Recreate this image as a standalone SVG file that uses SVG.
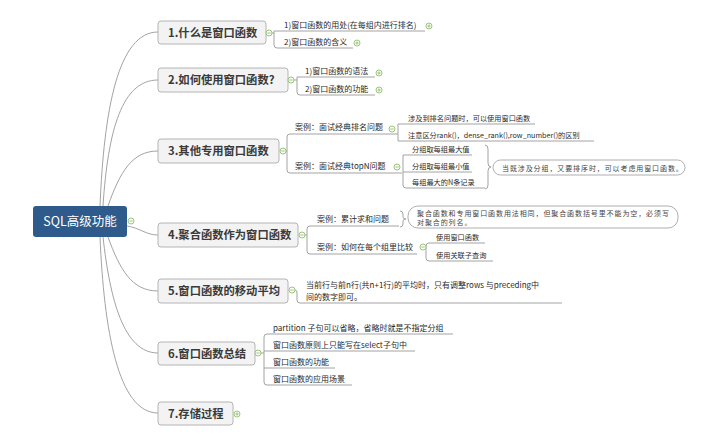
<svg xmlns="http://www.w3.org/2000/svg" xmlns:xlink="http://www.w3.org/1999/xlink" width="720" height="435" viewBox="0 0 720 435">
<style>
.c{fill:none;stroke:#a3a3a3;stroke-width:1}
.u{fill:none;stroke:#a3a3a3;stroke-width:1}
.box{fill:#f3f3f3;stroke:#b4b4b4;stroke-width:1}
.mt{font-family:"Noto Sans CJK SC","Noto Sans",sans-serif;font-size:11.3px;font-weight:bold;fill:#3a3a3a}
.t1{font-family:"Noto Sans CJK SC","Noto Sans",sans-serif;font-size:8px;fill:#2a2a2a}
.t2{font-family:"Noto Sans CJK SC","Noto Sans",sans-serif;font-size:7.2px;fill:#2a2a2a}
.nt{font-family:"Noto Sans CJK SC","Noto Serif",serif;font-size:7px;letter-spacing:0.9px;fill:#444}
.call{fill:#fff;stroke:#9a9a9a;stroke-width:0.8}
.tg{fill:#fff;stroke:#8dbf69;stroke-width:0.9}
.tl{stroke:#8dbf69;stroke-width:0.9}
</style>
<defs>
<g id="minus"><circle class="tg" r="3"/><line class="tl" x1="-1.7" y1="0" x2="1.7" y2="0"/></g>
<g id="plus"><circle class="tg" r="3"/><line class="tl" x1="-1.7" y1="0" x2="1.7" y2="0"/><line class="tl" x1="0" y1="-1.7" x2="0" y2="1.7"/></g>
</defs>
<rect width="720" height="435" fill="#fff"/>

<g id="connectors">
<path class="c" d="M100,206 C104,110 118,32 158,32"/>
<path class="c" d="M103,206 C108,130 122,80 158,80"/>
<path class="c" d="M108,206 C120,172 132,151 158,151"/>
<path class="c" d="M127,226 C140,228 146,235 158,235"/>
<path class="c" d="M108,237 C120,270 132,291 158,291"/>
<path class="c" d="M103,237 C110,300 124,353 158,353"/>
<path class="c" d="M100,237 C104,330 118,413 158,413"/>
<!-- node1 children -->
<path class="u" d="M272,33 H274 M274,31 H425 M274,31 V45 Q274,48 277,48 H353"/>
<!-- node2 children -->
<path class="u" d="M294,80 H297 M297,77 H375 M297,77 V92 Q297,95 300,95 H375"/>
<!-- node3 children -->
<path class="u" d="M286,151 H287 M398,134 H290 Q287,134 287,137 V170 Q287,173 290,173 H402"/>
<path class="u" d="M398,124 H535 M398,124 V141 H594"/>
<path class="u" d="M403,155 H472 M403,172 H472 M403,155 V185 Q403,188 406,188 H485"/>
<path class="u" d="M485,145 Q488,145 488,149 V163 Q488,167 491,167 Q488,167 488,171 V185 Q488,189 485,189"/>
<!-- node4 children -->
<path class="u" d="M305,235 H307 M399,226 H310 Q307,226 307,229 V251 Q307,254 310,254 H417"/>
<path class="u" d="M400,211 Q403,211 403,214 V217 Q403,219 406,219 Q403,219 403,221 V224 Q403,227 400,227"/>
<path class="u" d="M426,247 H426 M485,243 H429 Q426,243 426,246 V258 Q426,261 429,261 H493"/>
<!-- node5 children -->
<path class="u" d="M295,290 Q297,290 297,293 V300 Q297,303 300,303 H562"/>
<!-- node6 children -->
<path class="u" d="M261,353 H264 M453,334 H267 Q264,334 264,337 V382 Q264,385 267,385 H352 M264,351 H415 M264,368 H335"/>
</g>

<g id="root">
<rect x="33" y="206" width="94" height="31" rx="3" fill="#2e5b8b"/>
<text x="80" y="226" text-anchor="middle" font-family="'Noto Sans CJK SC','Noto Sans',sans-serif" font-size="12.5" fill="#fff">SQL高级功能</text>
<use xlink:href="#minus" x="131" y="221"/>
</g>

<g id="n1">
<rect class="box" x="158" y="21" width="108" height="23" rx="3"/>
<text class="mt" x="168" y="36.5">1.什么是窗口函数</text>
<use xlink:href="#minus" x="269" y="33"/>
</g>
<g id="n1a"><text class="t1" x="284" y="28">1)窗口函数的用处(在每组内进行排名)</text><use xlink:href="#plus" x="429" y="26"/></g>
<g id="n1b"><text class="t1" x="284" y="45">2)窗口函数的含义</text><use xlink:href="#plus" x="357" y="43"/></g>

<g id="n2">
<rect class="box" x="158" y="68" width="130" height="24" rx="3"/>
<text class="mt" x="168" y="84">2.如何使用窗口函数?</text>
<use xlink:href="#minus" x="291" y="80"/>
</g>
<g id="n2a"><text class="t1" x="305" y="74">1)窗口函数的语法</text><use xlink:href="#plus" x="379" y="73"/></g>
<g id="n2b"><text class="t1" x="305" y="91.5">2)窗口函数的功能</text><use xlink:href="#plus" x="379" y="90"/></g>

<g id="n3">
<rect class="box" x="158" y="139" width="121" height="24" rx="3"/>
<text class="mt" x="168" y="155">3.其他专用窗口函数</text>
<use xlink:href="#minus" x="283" y="151"/>
</g>
<g id="n3a"><text class="t1" x="295" y="130">案例：面试经典排名问题</text><use xlink:href="#minus" x="392" y="129"/></g>
<g id="n3a1"><text class="t2" x="408" y="120.5">涉及到排名问题时，可以使用窗口函数</text></g>
<g id="n3a2"><text class="t2" x="408" y="137.5">注意区分rank()，dense_rank(),row_number()的区别</text></g>
<g id="n3b"><text class="t1" x="295" y="169">案例：面试经典topN问题</text><use xlink:href="#minus" x="397" y="167"/></g>
<g id="n3b1"><text class="t2" x="412" y="151.5">分组取每组最大值</text></g>
<g id="n3b2"><text class="t2" x="412" y="168.5">分组取每组最小值</text></g>
<g id="n3b3"><text class="t2" x="412" y="184.5">每组最大的N条记录</text></g>
<g id="n3note">
<rect class="call" x="493" y="160" width="192" height="15" rx="7.5"/>
<text class="nt" x="502" y="170.5">当既涉及分组，又要排序时，可以考虑用窗口函数。</text>
</g>

<g id="n4">
<rect class="box" x="158" y="223" width="140" height="24" rx="3"/>
<text class="mt" x="168" y="239">4.聚合函数作为窗口函数</text>
<use xlink:href="#minus" x="302" y="235"/>
</g>
<g id="n4a"><text class="t1" x="317" y="222">案例：累计求和问题</text></g>
<g id="n4note">
<rect class="call" x="408" y="206" width="270" height="22" rx="10"/>
<text class="nt" x="417" y="215.5">聚合函数和专用窗口函数用法相同，但聚合函数括号里不能为空，必须写</text>
<text class="nt" x="417" y="224.5">对聚合的列名。</text>
</g>
<g id="n4b"><text class="t1" x="317" y="250">案例：如何在每个组里比较</text><use xlink:href="#minus" x="423" y="247"/></g>
<g id="n4b1"><text class="t2" x="436" y="240">使用窗口函数</text></g>
<g id="n4b2"><text class="t2" x="436" y="258">使用关联子查询</text></g>

<g id="n5">
<rect class="box" x="158" y="279" width="130" height="24" rx="3"/>
<text class="mt" x="168" y="295">5.窗口函数的移动平均</text>
<use xlink:href="#minus" x="292" y="290"/>
</g>
<g id="n5a">
<text class="t1" x="306" y="287.5">当前行与前n行(共n+1行)的平均时，只有调整rows 与preceding中</text>
<text class="t1" x="306" y="300">间的数字即可。</text>
</g>

<g id="n6">
<rect class="box" x="158" y="342" width="97" height="23" rx="3"/>
<text class="mt" x="168" y="357.5">6.窗口函数总结</text>
<use xlink:href="#minus" x="258" y="353"/>
</g>
<g id="n6a"><text class="t1" x="273" y="330.5">partition 子句可以省略，省略时就是不指定分组</text></g>
<g id="n6b"><text class="t1" x="273" y="347.5">窗口函数原则上只能写在select子句中</text></g>
<g id="n6c"><text class="t1" x="273" y="364.5">窗口函数的功能</text></g>
<g id="n6d"><text class="t1" x="273" y="381.5">窗口函数的应用场景</text></g>

<g id="n7">
<rect class="box" x="158" y="402" width="75" height="23" rx="3"/>
<text class="mt" x="168" y="417.5">7.存储过程</text>
<use xlink:href="#plus" x="237" y="414"/>
</g>
</svg>
